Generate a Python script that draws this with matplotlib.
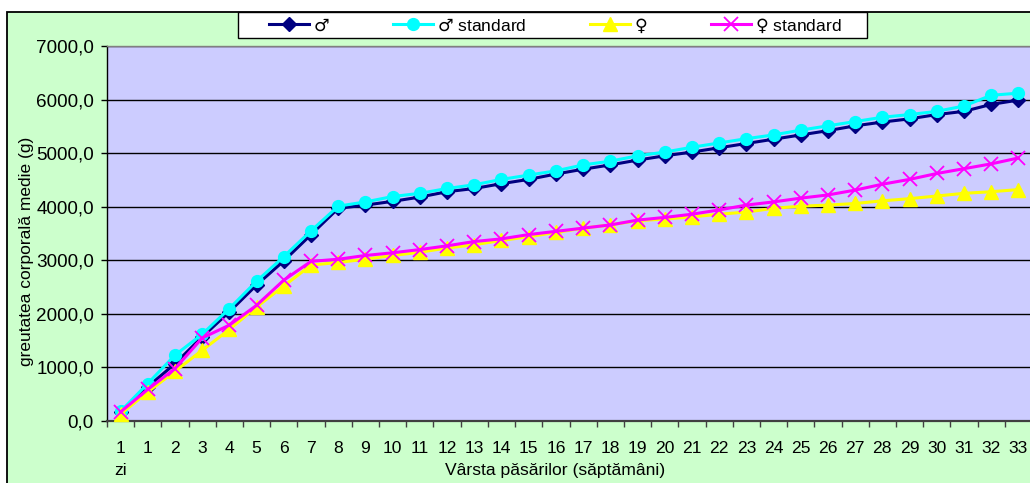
import matplotlib
matplotlib.use("Agg")
import matplotlib.pyplot as plt
from matplotlib.patches import Rectangle
import numpy as np

plt.rcParams['font.family'] = ['Liberation Sans', 'DejaVu Sans']
plt.rcParams['mathtext.fontset'] = 'dejavusans'

categories = ["1\nzi"] + [str(i) for i in range(1, 34)]

male = [160, 640, 1070, 1570, 2040, 2540, 2990, 3480, 3970, 4030, 4100, 4180,
        4280, 4340, 4430, 4510, 4610, 4700, 4780, 4870, 4950, 5020, 5100, 5180,
        5260, 5340, 5420, 5510, 5580, 5640, 5720, 5780, 5910, 5990]
male_std = [180, 700, 1230, 1620, 2100, 2610, 3070, 3550, 4010, 4090, 4190, 4250,
            4340, 4410, 4510, 4590, 4670, 4780, 4850, 4950, 5020, 5110, 5190, 5270,
            5340, 5430, 5510, 5590, 5670, 5720, 5780, 5880, 6080, 6120]
female = [130, 540, 930, 1320, 1710, 2130, 2520, 2910, 2960, 3020, 3090, 3150,
          3230, 3290, 3370, 3440, 3520, 3600, 3660, 3740, 3770, 3810, 3860, 3900,
          3970, 4010, 4030, 4060, 4110, 4150, 4200, 4250, 4280, 4320]
female_std = [170, 590, 980, 1550, 1790, 2160, 2630, 2980, 3020, 3090, 3140, 3200,
              3270, 3350, 3400, 3480, 3540, 3600, 3660, 3750, 3800, 3860, 3940, 4030,
              4090, 4160, 4220, 4310, 4420, 4510, 4620, 4710, 4800, 4910]

series_labels = ["$\\mathrm{\u2642}$", "$\\mathrm{\u2642}$ standard",
                 "$\\mathrm{\u2640}$", "$\\mathrm{\u2640}$ standard"]
yticks = [0, 1000, 2000, 3000, 4000, 5000, 6000, 7000]

W, H = 1030, 483
fig = plt.figure(figsize=(W / 100, H / 100), dpi=100)
fig.patch.set_facecolor('white')

fig.add_artist(Rectangle((7 / W, -0.05), 1.2, 1 - 12.5 / H + 0.05, transform=fig.transFigure,
                         facecolor='#CCFFCC', edgecolor='black', lw=1.3, zorder=-10))

ax = fig.add_axes([107 / W, 62 / H, 925 / W, 375 / H])
ax.set_facecolor('#CCCCFF')

x = np.arange(len(categories))
ax.plot(x, male, color='#000080', lw=2.2, marker='D', ms=7, mec='#000080', mfc='#000080',
        label=series_labels[0], clip_on=False, zorder=3)
ax.plot(x, male_std, color='#00FFFF', lw=2.2, marker='o', ms=8.5, mec='#00FFFF', mfc='#00FFFF',
        label=series_labels[1], clip_on=False, zorder=4)
ax.plot(x, female, color='#FFFF00', lw=2.2, marker='^', ms=10, mec='#FFFF00', mfc='#FFFF00',
        label=series_labels[2], clip_on=False, zorder=5)
ax.plot(x, female_std, color='#FF00FF', lw=2.2, marker='x', ms=9.5, mec='#FF00FF', mew=1.3,
        label=series_labels[3], clip_on=False, zorder=6)

ax.set_xlim(-0.5, len(categories) - 0.5)
ax.set_ylim(0, 7000)
ax.set_yticks(yticks)
ax.set_yticklabels([f"{v:.1f}".replace('.', ',') for v in yticks], fontsize=13.6)
ax.yaxis.grid(True, color='black', lw=1.0)
ax.set_axisbelow(True)

ax.set_xticks(x)
ax.set_xticklabels(categories, fontsize=12.6)
ax.set_xticks(np.arange(-0.5, len(categories)), minor=True)
ax.tick_params(axis='x', which='major', length=0, pad=14.5)
ax.tick_params(axis='x', which='minor', length=4.5, width=1, color='#404040', direction='out')
ax.tick_params(axis='y', which='major', length=4.5, width=1, color='black', pad=5)
ax.get_xticklabels()[0].set_linespacing(1.55)

ax.spines['left'].set_color('black'); ax.spines['left'].set_lw(1.0)
ax.spines['bottom'].set_color('#404040'); ax.spines['bottom'].set_lw(1.6)
ax.spines['top'].set_color('#808080'); ax.spines['top'].set_lw(1.0)
ax.spines['right'].set_visible(False)

fig.text(27 / W, 1 - 251 / H, "greutatea corporală medie (g)", rotation=90,
         ha='center', va='center', fontsize=12.5)
fig.text(555.5 / W, 1 - 474.5 / H, "Vârsta păsărilor (săptămâni)",
         ha='center', va='baseline', fontsize=12.6)

fig.add_artist(Rectangle((238 / W, 1 - 38 / H), 629 / W, 25.5 / H, transform=fig.transFigure,
                         facecolor='white', edgecolor='black', lw=1.0, zorder=5))
handles, labels = ax.get_legend_handles_labels()
leg = fig.legend(handles, labels, loc='center', bbox_to_anchor=(555 / W, 1 - 25.5 / H),
                 ncol=4, frameon=False, fontsize=12.6, handlelength=2.3, handletextpad=0.2,
                 columnspacing=3.65, borderpad=0, numpoints=1)
leg.set_zorder(6)

fig.savefig("out.png", dpi=100)
